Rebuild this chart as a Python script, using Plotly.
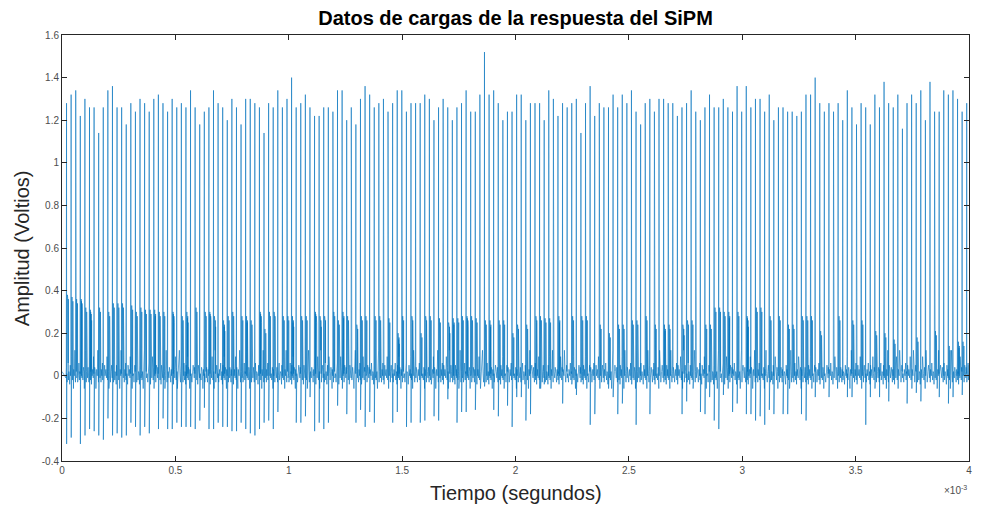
import plotly.graph_objects as go

# ---------------- data ----------------
# Heights (V) of the large periodic pulses, left to right
big_heights = [
    1.28, 1.32, 1.34, 1.22, 1.30, 1.26, 1.26, 1.14, 1.26, 1.34,
    1.36, 1.26, 1.26, 1.18, 1.28, 1.24, 1.30, 1.28, 1.24, 1.30,
    1.32, 1.28, 1.24, 1.30, 1.26, 1.28, 1.26, 1.34, 1.26, 1.18,
    1.24, 1.26, 1.34, 1.28, 1.26, 1.20, 1.30, 1.26, 1.18, 1.30,
    1.30, 1.28, 1.26, 1.14, 1.28, 1.26, 1.34, 1.26, 1.30, 1.40,
    1.26, 1.28, 1.32, 1.26, 1.22, 1.22, 1.26, 1.26, 1.24, 1.34,
    1.34, 1.20, 1.26, 1.18, 1.30, 1.36, 1.32, 1.26, 1.28, 1.30,
    1.24, 1.28, 1.34, 1.34, 1.24, 1.28, 1.28, 1.28, 1.32, 1.30,
    1.20, 1.26, 1.30, 1.26, 1.20, 1.26, 1.28, 1.34, 1.24, 1.24,
    1.32, 1.52, 1.32, 1.34, 1.28, 1.20, 1.24, 1.24, 1.32,
    1.32, 1.20, 1.28, 1.28, 1.28, 1.20, 1.34, 1.30, 1.22, 1.28,
    1.26, 1.28, 1.30, 1.14, 1.28, 1.36, 1.22, 1.28, 1.26, 1.26,
    1.32, 1.26, 1.32, 1.28, 1.34, 1.24, 1.18, 1.28, 1.30, 1.24,
    1.30, 1.30, 1.28, 1.28, 1.22, 1.26, 1.28, 1.34, 1.24, 1.20,
    1.26, 1.32, 1.26, 1.26, 1.30, 1.26, 1.24, 1.36, 1.24, 1.36,
    1.26, 1.30, 1.30, 1.24, 1.32, 1.20, 1.26, 1.26, 1.24, 1.24,
    1.22, 1.24, 1.32, 1.32, 1.40, 1.28, 1.24, 1.28, 1.24, 1.28,
    1.20, 1.34, 1.26, 1.18, 1.28, 1.26, 1.18, 1.32, 1.26, 1.38,
    1.28, 1.26, 1.32, 1.16, 1.28, 1.32, 1.28, 1.34, 1.20, 1.38,
    1.24, 1.24, 1.34, 1.32, 1.34, 1.30, 1.24, 1.28,
]

# Medium (single-photon-like) pulses following each large pulse, 0 = none
mid_heights = [
    0.38, 0.37, 0.36, 0.36, 0.32, 0.31, 0.00, 0.32, 0.00, 0.30,
    0.34, 0.34, 0.34, 0.00, 0.33, 0.30, 0.32, 0.31, 0.31, 0.31,
    0.30, 0.30, 0.00, 0.30, 0.00, 0.28, 0.30, 0.00, 0.32, 0.00,
    0.30, 0.30, 0.28, 0.00, 0.26, 0.28, 0.30, 0.00, 0.28, 0.28,
    0.26, 0.00, 0.30, 0.22, 0.30, 0.30, 0.00, 0.28, 0.28, 0.28,
    0.00, 0.28, 0.28, 0.00, 0.30, 0.28, 0.28, 0.00, 0.30, 0.26,
    0.30, 0.28, 0.00, 0.24, 0.28, 0.28, 0.00, 0.28, 0.28, 0.00,
    0.27, 0.00, 0.20, 0.28, 0.00, 0.28, 0.00, 0.20, 0.28, 0.28,
    0.00, 0.27, 0.00, 0.25, 0.27, 0.27, 0.28, 0.28, 0.28, 0.27,
    0.00, 0.26, 0.26, 0.00, 0.26, 0.26, 0.00, 0.20, 0.24,
    0.00, 0.24, 0.00, 0.28, 0.28, 0.27, 0.27, 0.00, 0.28, 0.00,
    0.00, 0.28, 0.00, 0.28, 0.28, 0.00, 0.00, 0.24, 0.00, 0.20,
    0.00, 0.24, 0.24, 0.00, 0.26, 0.26, 0.00, 0.28, 0.00, 0.24,
    0.00, 0.24, 0.24, 0.00, 0.00, 0.24, 0.26, 0.26, 0.00, 0.00,
    0.24, 0.24, 0.32, 0.32, 0.30, 0.30, 0.00, 0.30, 0.00, 0.28,
    0.00, 0.32, 0.32, 0.00, 0.28, 0.00, 0.28, 0.00, 0.24, 0.24,
    0.00, 0.28, 0.28, 0.28, 0.00, 0.21, 0.00, 0.00, 0.00, 0.28,
    0.00, 0.00, 0.26, 0.00, 0.26, 0.00, 0.00, 0.21, 0.00, 0.20,
    0.00, 0.17, 0.00, 0.00, 0.00, 0.00, 0.18, 0.00, 0.00, 0.00,
    0.21, 0.00, 0.00, 0.14, 0.00, 0.16, 0.16, 0.00,
]

# Negative undershoot right after each large pulse (V), 0 = none
dip_depths = [
    -0.32, -0.29, 0.00, -0.32, -0.28, -0.25, -0.26, -0.28, -0.30, -0.20,
    -0.28, -0.27, -0.29, -0.28, -0.22, -0.24, -0.28, -0.24, -0.27, 0.00,
    -0.25, -0.20, -0.25, -0.25, -0.22, -0.24, -0.24, -0.24, -0.25, -0.21,
    -0.15, -0.25, -0.25, -0.22, -0.24, -0.24, -0.26, -0.26, -0.22, -0.25,
    -0.27, -0.28, -0.25, -0.22, -0.21, -0.25, -0.17, 0.00, 0.00, 0.00,
    -0.22, -0.22, -0.19, -0.10, -0.26, -0.22, -0.25, -0.22, 0.00, -0.14,
    0.00, -0.18, 0.00, -0.22, -0.16, -0.24, -0.17, -0.22, 0.00, 0.00,
    0.00, -0.22, -0.17, 0.00, -0.24, -0.22, 0.00, -0.22, -0.21, 0.00,
    -0.19, -0.21, 0.00, -0.11, 0.00, -0.22, -0.17, -0.17, 0.00, -0.16,
    0.00, -0.05, 0.00, -0.16, -0.19, 0.00, -0.14, -0.24, -0.10,
    -0.10, -0.21, -0.18, 0.00, -0.06, -0.04, 0.00, 0.00, 0.00, -0.13,
    0.00, 0.00, -0.09, 0.00, 0.00, -0.23, -0.18, 0.00, 0.00, -0.06,
    -0.10, -0.18, -0.13, 0.00, 0.00, -0.23, 0.00, 0.00, -0.18, 0.00,
    0.00, 0.00, 0.00, 0.00, 0.00, -0.18, -0.12, 0.00, 0.00, -0.17,
    -0.18, -0.10, -0.21, -0.25, -0.09, 0.00, -0.17, -0.13, 0.00, -0.18,
    -0.18, -0.21, -0.19, -0.23, -0.16, -0.18, 0.00, -0.18, -0.18, 0.00,
    0.00, -0.18, -0.21, 0.00, -0.10, 0.00, 0.00, -0.10, 0.00, 0.00,
    0.00, -0.10, -0.10, 0.00, 0.00, -0.23, -0.10, 0.00, -0.10, 0.00,
    -0.12, 0.00, 0.00, 0.00, -0.13, 0.00, -0.08, -0.12, 0.00, 0.00,
    0.00, -0.10, 0.00, -0.13, -0.10, 0.00, -0.09, 0.00,
]

# Baseline noise levels (V), read as typical excursions of the dark band
baseline_noise = [0.02, -0.01, 0.04, 0.01, -0.03, 0.03, 0.00, 0.06, -0.02,
                  0.02, 0.01, -0.04, 0.05, 0.00, 0.03, -0.01, 0.09, 0.01,
                  -0.02, 0.04, 0.02, -0.06, 0.03, 0.00, 0.12, 0.01, -0.03,
                  0.02, 0.05]

first_pulse_s = 0.02e-3      # time of first large pulse
last_pulse_s = 3.99e-3       # time of last large pulse

x_ticks = [0, 0.5e-3, 1e-3, 1.5e-3, 2e-3, 2.5e-3, 3e-3, 3.5e-3, 4e-3]
x_labels = ["0", "0.5", "1", "1.5", "2", "2.5", "3", "3.5", "4"]
y_ticks = [-0.4, -0.2, 0, 0.2, 0.4, 0.6, 0.8, 1.0, 1.2, 1.4, 1.6]
y_labels = ["-0.4", "-0.2", "0", "0.2", "0.4", "0.6", "0.8", "1", "1.2", "1.4", "1.6"]

# ---------------- build the sampled waveform ----------------
n = len(big_heights)
period = (last_pulse_s - first_pulse_s) / (n - 1)
us = 1e-6
t, v = [0.0], [baseline_noise[0]]
k = 1


def nz():
    global k
    val = baseline_noise[k % len(baseline_noise)]
    k += 1
    return val


for i in range(n):
    ts = first_pulse_s + i * period
    seq = [(-2.5, nz()), (-1.0, nz()), (0.0, big_heights[i])]
    d = dip_depths[i] if i < len(dip_depths) else 0.0
    seq.append((0.4, d if d < 0 else nz()))
    seq += [(1.2, nz()), (2.6, nz())]
    m = mid_heights[i] if i < len(mid_heights) else 0.0
    if m > 0:
        seq += [(4.0, m), (4.6, nz()), (5.2, m - 0.01), (5.8, nz()),
                (6.5, m - 0.03), (7.2, nz()), (7.9, m - 0.02), (8.6, nz()),
                (9.4, m - 0.05), (10.2, nz())]
    else:
        seq += [(6.0, nz()), (8.0, nz())]
    seq += [(11.5, nz()), (14.0, nz()), (16.5, nz())]
    for off, val in seq:
        tt = ts + off * us
        if 0 <= tt <= 4e-3:
            t.append(tt)
            v.append(val)
t.append(4e-3)
v.append(nz())

fig = go.Figure()
fig.add_trace(go.Scatter(x=t, y=v, mode="lines",
                         line=dict(color="#0072BD", width=0.6),
                         showlegend=False, hoverinfo="skip"))

axis_common = dict(showgrid=False, zeroline=False, showline=True,
                   linecolor="#262626", linewidth=1, mirror="ticks",
                   ticks="inside", ticklen=5, tickcolor="#262626",
                   tickfont=dict(family="Liberation Sans, Arial", size=10,
                                 color="#4d4d4d"))

fig.update_layout(
    width=981, height=510,
    margin=dict(l=62, r=9, t=35, b=49),
    paper_bgcolor="white", plot_bgcolor="white",
    title=dict(text="<b>Datos de cargas de la respuesta del SiPM</b>",
               x=0.5, xref="paper", y=1 - 18 / 510, yref="container",
               yanchor="middle", xanchor="center",
               font=dict(family="Liberation Sans, Arial", size=20,
                         color="black")),
    xaxis=dict(range=[0, 4e-3], tickvals=x_ticks, ticktext=x_labels,
               **axis_common),
    yaxis=dict(range=[-0.4, 1.6], tickvals=y_ticks, ticktext=y_labels,
               **axis_common),
    annotations=[
        dict(text="Tiempo (segundos)", xref="paper", yref="paper",
             x=0.5, y=(461 - 493) / 426, xanchor="center", yanchor="middle",
             showarrow=False,
             font=dict(family="Liberation Sans, Arial", size=20,
                       color="#262626")),
        dict(text="Amplitud (Voltios)", xref="paper", yref="paper",
             x=(22 - 62) / 910, y=(461 - 248) / 426, textangle=-90,
             xanchor="center", yanchor="middle", showarrow=False,
             font=dict(family="Liberation Sans, Arial", size=20,
                       color="#262626")),
        dict(text="×10<sup>-3</sup>", xref="paper", yref="paper",
             x=1.0, y=(461 - 490) / 426, xanchor="right", yanchor="middle",
             showarrow=False,
             font=dict(family="Liberation Sans, Arial", size=10,
                       color="#4d4d4d")),
    ],
)

fig.write_html("out.html")
